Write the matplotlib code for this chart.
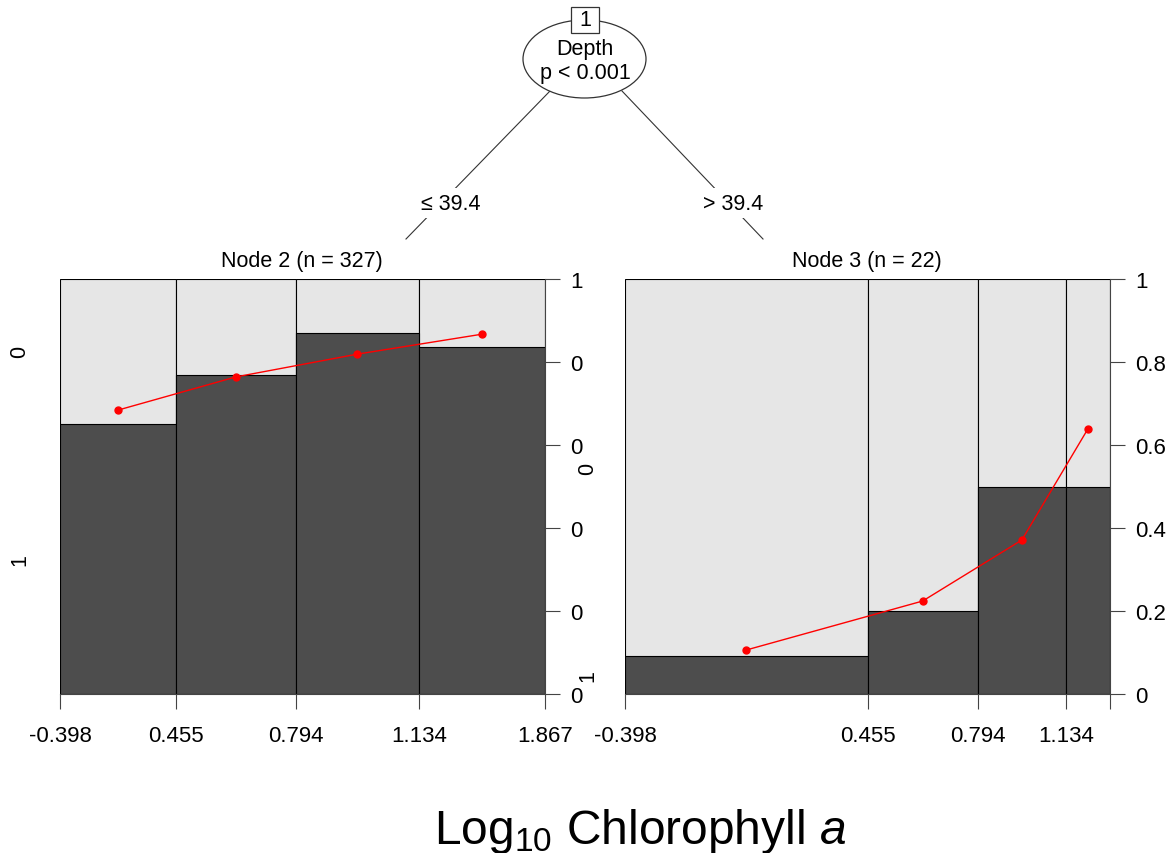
import numpy as np
import matplotlib
matplotlib.use("Agg")
import matplotlib.pyplot as plt
from matplotlib.patches import Ellipse, Rectangle

plt.rcParams['font.family'] = ['Liberation Sans', 'DejaVu Sans']
plt.rcParams['mathtext.fontset'] = 'custom'
plt.rcParams['mathtext.rm'] = 'Liberation Sans'
plt.rcParams['mathtext.it'] = 'Liberation Sans:italic'

# data
break_labels = ["-0.398", "0.455", "0.794", "1.134", "1.867"]
node2_counts = [78, 81, 83, 85]
node2_share1 = [0.651, 0.769, 0.870, 0.836]   # dark part (level "1")
node2_fit = [0.684, 0.764, 0.819, 0.867]
node3_counts = [11, 5, 4, 2]
node3_share1 = [1 / 11, 0.2, 0.5, 0.5]
node3_fit = [0.106, 0.224, 0.371, 0.639]

W, H = 1169, 854
fig = plt.figure(figsize=(W / 100, H / 100), dpi=100)

# overlay in pixel coords for the tree part
ov = fig.add_axes([0, 0, 1, 1])
ov.set_xlim(0, W)
ov.set_ylim(H, 0)
ov.axis('off')

lc = '#333333'
fs = 15.5
ov.plot([550, 406], [92, 240], color=lc, lw=0.8)
ov.plot([622, 763], [92, 240], color=lc, lw=0.8)
ov.add_patch(Ellipse((584.5, 60), 123, 78, facecolor='white', edgecolor=lc, lw=0.9, zorder=3))
ov.add_patch(Rectangle((571, 8), 28, 26, facecolor='white', edgecolor=lc, lw=0.9, zorder=4))
ov.text(585, 21, "1", ha='center', va='center', fontsize=fs, zorder=5)
ov.text(585, 49, "Depth", ha='center', va='center', fontsize=fs, zorder=5)
ov.text(585, 74, "p < 0.001", ha='center', va='center', fontsize=fs, zorder=5)
for x, s in [(451, "\u2264 39.4"), (733, "> 39.4")]:
    ov.text(x, 204, s, ha='center', va='center', fontsize=fs, zorder=5,
            bbox=dict(facecolor='white', edgecolor='none', pad=3))
ov.text(302, 262, "Node 2 (n = 327)", ha='center', va='center', fontsize=fs)
ov.text(867, 262, "Node 3 (n = 22)", ha='center', va='center', fontsize=fs)
ov.text(640, 844, r"Log$_{\mathrm{10}}$ Chlorophyll $a$", ha='center', va='baseline', fontsize=34.5)


def spine_panel(left_px, counts, share1, fit, ylabels, lab_off, last_label=True):
    ax = fig.add_axes([left_px / W, (H - 695) / H, 485 / W, 415 / H])
    counts = np.array(counts, dtype=float)
    widths = counts / counts.sum()
    lefts = np.concatenate([[0], np.cumsum(widths)[:-1]])
    ax.bar(lefts, np.ones(len(widths)), width=widths, align='edge',
           color='#E6E6E6', edgecolor='black', lw=0.8)
    ax.bar(lefts, share1, width=widths, align='edge',
           color='#4D4D4D', edgecolor='black', lw=0.8)
    mids = lefts + widths / 2
    ax.plot(mids, fit, color='red', lw=1, marker='o', ms=5)
    ax.set_xlim(0, 1)
    ax.set_ylim(0, 1)
    for s in ['left', 'top']:
        ax.spines[s].set_visible(False)
    for s in ['right', 'bottom']:
        ax.spines[s].set_color('#444444')
        ax.spines[s].set_linewidth(0.8)
    xt = np.concatenate([[0], np.cumsum(widths)])
    ax.set_xticks(xt)
    labs = list(break_labels)
    if not last_label:
        labs[-1] = ""
    ax.set_xticklabels(labs)
    ax.yaxis.tick_right()
    ax.set_yticks(np.linspace(0, 1, 6))
    ax.set_yticklabels(ylabels)
    ax.tick_params(axis='x', direction='out', length=11, width=0.8, color='#444444',
                   labelsize=16, pad=11)
    ax.tick_params(axis='y', direction='out', length=11, width=0.8, color='#444444',
                   labelsize=16, pad=7)
    # level labels at the first bar's segment midpoints
    trans = ax.get_yaxis_transform()
    ax.text(-lab_off / 485, share1[0] / 2, "1", rotation=90, ha='center', va='center',
            fontsize=fs, transform=trans)
    ax.text(-lab_off / 485, share1[0] + (1 - share1[0]) / 2, "0", rotation=90,
            ha='center', va='center', fontsize=fs, transform=trans)
    return ax


spine_panel(60, node2_counts, node2_share1, node2_fit,
            ["0", "0", "0", "0", "0", "1"], 40)
spine_panel(625, node3_counts, node3_share1, node3_fit,
            ["0", "0.2", "0.4", "0.6", "0.8", "1"], 37, last_label=False)

fig.savefig("out.png", dpi=100)
